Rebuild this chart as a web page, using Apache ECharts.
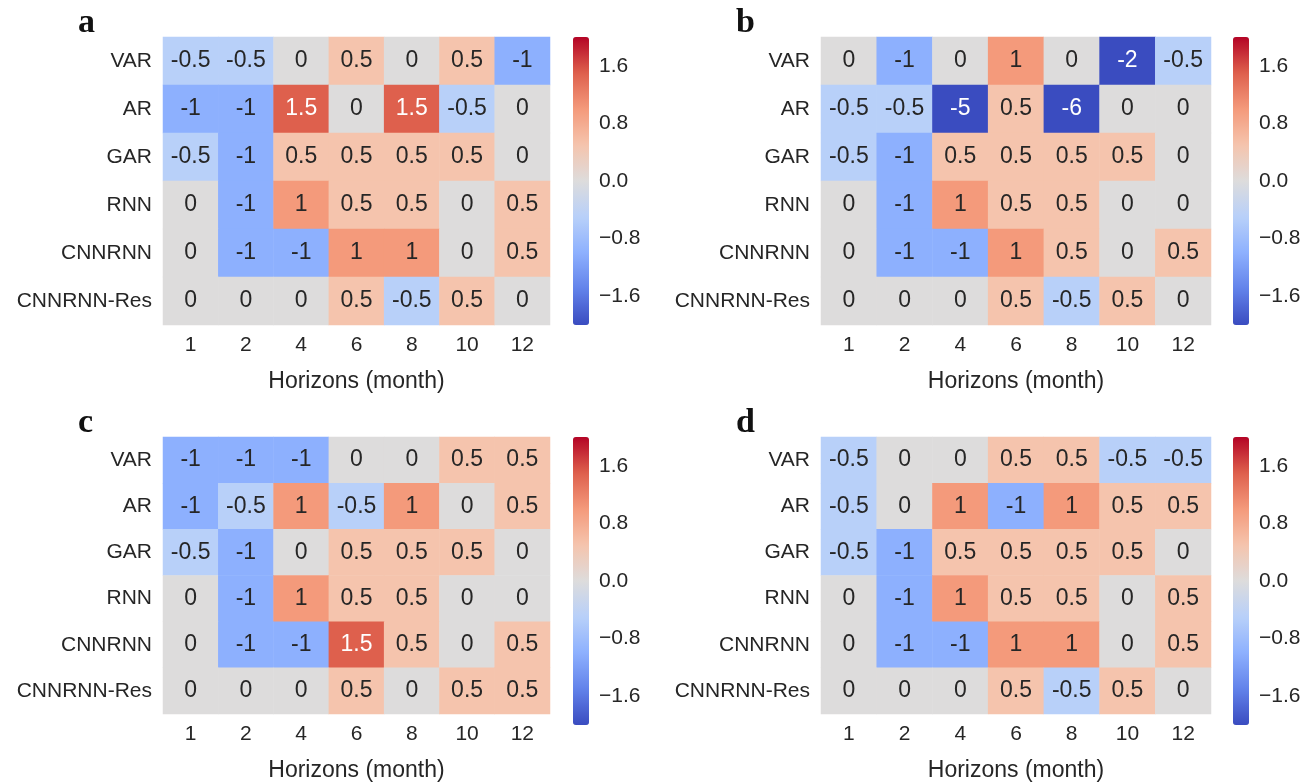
<!DOCTYPE html>
<html><head><meta charset="utf-8">
<script src="https://cdn.jsdelivr.net/npm/echarts@6/dist/echarts.min.js"></script>
<style>html,body{margin:0;padding:0;background:#fff}#c{width:1316px;height:783px}</style>
</head><body><div id="c"></div>
<script>
const models = ['VAR','AR','GAR','RNN','CNNRNN','CNNRNN-Res'];
const horizons = ['1','2','4','6','8','10','12'];
const cbTicks = [-1.6,-0.8,0,0.8,1.6];
const panelLetters = ['a','b','c','d'];

const panelA = [
  [-0.5,-0.5,0,0.5,0,0.5,-1],
  [-1,-1,1.5,0,1.5,-0.5,0],
  [-0.5,-1,0.5,0.5,0.5,0.5,0],
  [0,-1,1,0.5,0.5,0,0.5],
  [0,-1,-1,1,1,0,0.5],
  [0,0,0,0.5,-0.5,0.5,0]
];
const panelB = [
  [0,-1,0,1,0,-2,-0.5],
  [-0.5,-0.5,-5,0.5,-6,0,0],
  [-0.5,-1,0.5,0.5,0.5,0.5,0],
  [0,-1,1,0.5,0.5,0,0],
  [0,-1,-1,1,0.5,0,0.5],
  [0,0,0,0.5,-0.5,0.5,0]
];
const panelC = [
  [-1,-1,-1,0,0,0.5,0.5],
  [-1,-0.5,1,-0.5,1,0,0.5],
  [-0.5,-1,0,0.5,0.5,0.5,0],
  [0,-1,1,0.5,0.5,0,0],
  [0,-1,-1,1.5,0.5,0,0.5],
  [0,0,0,0.5,0,0.5,0.5]
];
const panelD = [
  [-0.5,0,0,0.5,0.5,-0.5,-0.5],
  [-0.5,0,1,-1,1,0.5,0.5],
  [-0.5,-1,0.5,0.5,0.5,0.5,0],
  [0,-1,1,0.5,0.5,0,0.5],
  [0,-1,-1,1,1,0,0.5],
  [0,0,0,0.5,-0.5,0.5,0]
];
const panels = [panelA, panelB, panelC, panelD];

const coolwarm = ['#3a4cc0','#6282ea','#8db0fe','#b8d0f9','#dddcdc','#f5c4ad','#f49a7b','#de604d','#b40426'];
const vmin = -2, vmax = 2;
const txt = '#262626';
const fontFam = 'Liberation Sans, Arial, sans-serif';

const layout = [
  {left:163, top:37, width:387, height:288, cbLeft:573, lx:78, ly:6},
  {left:821, top:37, width:390, height:288, cbLeft:1233, lx:736, ly:6},
  {left:163, top:437, width:387, height:288, cbLeft:573, lx:78, ly:406},
  {left:821, top:437, width:390, height:288, cbLeft:1233, lx:736, ly:406}
];

const grid=[], xAxis=[], yAxis=[], series=[], visualMap=[], graphic=[];
panels.forEach((p, i) => {
  const L = layout[i];
  // heatmap grid
  grid.push({left:L.left, top:L.top, width:L.width, height:L.height, containLabel:false});
  xAxis.push({type:'category', gridIndex:2*i, data:horizons, name:'Horizons (month)', nameLocation:'middle', nameGap:45,
    nameTextStyle:{fontSize:23, color:txt, fontFamily:fontFam},
    axisLine:{show:false}, axisTick:{show:false}, splitArea:{show:false},
    axisLabel:{fontSize:21, color:txt, fontFamily:fontFam, margin:10}});
  yAxis.push({type:'category', gridIndex:2*i, data:models, inverse:true,
    axisLine:{show:false}, axisTick:{show:false},
    axisLabel:{fontSize:21, color:txt, fontFamily:fontFam, margin:11}});
  // colorbar tick grid
  grid.push({left:L.cbLeft, top:L.top, width:16, height:L.height});
  xAxis.push({type:'value', gridIndex:2*i+1, show:false, min:0, max:1});
  yAxis.push({type:'value', gridIndex:2*i+1, position:'right', min:vmin, max:vmax,
    axisLine:{show:false}, splitLine:{show:false},
    axisTick:{show:true, length:5, lineStyle:{color:txt, width:1}, customValues:cbTicks},
    axisLabel:{fontSize:21, color:txt, fontFamily:fontFam, margin:10, customValues:cbTicks,
      formatter: v => (v < 0 ? '\u2212' : '') + Math.abs(v).toFixed(1)}});
  const data = [];
  p.forEach((row, r) => row.forEach((v, c) => {
    const cl = Math.max(vmin, Math.min(vmax, v));
    data.push({value:[c, r, v, cl], label:{color: Math.abs(cl) >= 1.5 ? '#ffffff' : txt}});
  }));
  series.push({type:'heatmap', xAxisIndex:2*i, yAxisIndex:2*i, data:data,
    label:{show:true, fontSize:23, fontFamily:fontFam, formatter: d => String(d.value[2])},
    itemStyle:{borderWidth:0}, emphasis:{disabled:true}});
  visualMap.push({type:'continuous', seriesIndex:i, dimension:3, min:vmin, max:vmax,
    calculable:false, realtime:false, orient:'vertical', left:L.cbLeft, top:L.top,
    itemWidth:16, itemHeight:L.height, padding:0, text:null, showLabel:false,
    inRange:{color:coolwarm}});
  graphic.push({type:'text', left:L.lx, top:L.ly, style:{text:panelLetters[i], fontSize:34, fontWeight:'bold',
    fontFamily:'Liberation Serif, Times New Roman, serif', fill:'#111'}});
});

const chart = echarts.init(document.getElementById('c'), null, {renderer:'canvas'});
chart.setOption({animation:false, backgroundColor:'#fff', grid, xAxis, yAxis, series, visualMap, graphic});
</script></body></html>
